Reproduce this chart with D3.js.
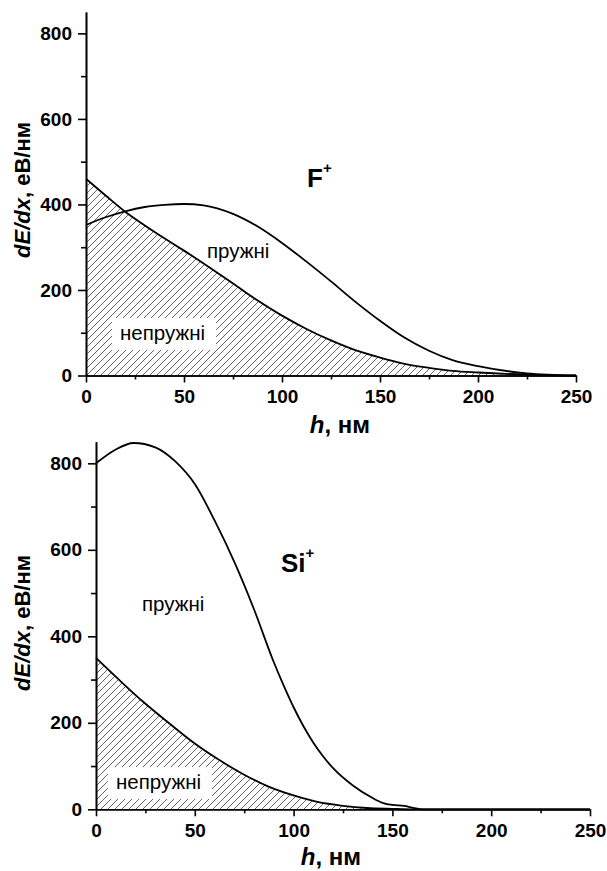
<!DOCTYPE html>
<html>
<head>
<meta charset="utf-8">
<script src="https://cdn.jsdelivr.net/npm/d3@7"></script>
<style>
	body { margin: 0; background: #fff; }
	svg { display: block; font-family: "Liberation Sans", Arial, sans-serif; }
	.axis path, .axis line { stroke: #000; stroke-width: 1.6; }
	.axis text { font-size: 19px; font-weight: bold; fill: #000; }
	.curve { fill: none; stroke: #000; stroke-width: 1.8; }
</style>
</head>
<body>
<svg id="fig" width="607" height="871"></svg>
<script>
// --- data ---
const xTicks = [0, 50, 100, 150, 200, 250];
const xMinor = [25, 75, 125, 175, 225];
const yTicks = [0, 200, 400, 600, 800];
const yMinor = [100, 300, 500, 700];

// F+ : inelastic (hatched) and elastic losses
const hF = [0, 10, 20, 30, 40, 50, 60, 75, 87, 100, 112, 125, 137, 150, 162, 175, 187, 200, 225, 250];
const inelasticF = [460, 421, 383, 351, 321, 292, 262, 215, 177, 140, 110, 82, 60, 42, 28, 18, 11, 7, 2, 0];
const elasticF = [352, 370, 384, 394, 399, 401, 398, 378, 350, 310, 268, 220, 174, 128, 90, 58, 36, 22, 5, 0];

// Si+
const hSiEl = [0, 10, 19, 30, 40, 50, 60, 70, 80, 90, 95, 100, 105, 110, 115, 120, 130, 140, 145, 150, 156, 160, 166, 250];
const elasticSi = [800, 832, 847, 837, 805, 752, 668, 572, 462, 340, 286, 236, 192, 154, 122, 95, 55, 26, 15, 10, 8, 4, 0, 0];
const hSiIn = [0, 12, 24, 37, 50, 62, 75, 87, 100, 112, 125, 137, 150, 160, 250];
const inelasticSi = [350, 298, 248, 199, 152, 115, 80, 53, 32, 17, 8, 3, 1, 0, 0];

const svg = d3.select('#fig');

// hatch pattern "/"
svg.append('defs').append('pattern')
	.attr('id', 'hatch')
	.attr('patternUnits', 'userSpaceOnUse')
	.attr('width', 7).attr('height', 7)
	.append('path')
	.attr('d', 'M-1,1 l2,-2 M0,7 l7,-7 M6,8 l2,-2')
	.attr('stroke', '#555')
	.attr('stroke-width', 0.9);

function drawPanel(p) {
	const x = d3.scaleLinear().domain([0, 250]).range([p.left, p.right]);
	const y = d3.scaleLinear().domain([0, 850]).range([p.bottom, p.top]);
	const g = svg.append('g');

	const inPts = p.hIn.map((h, i) => [h, p.inel[i]]);
	const elPts = p.hEl.map((h, i) => [h, p.el[i]]);

	// hatched area of inelastic losses
	g.append('path')
		.datum(inPts)
		.attr('fill', 'url(#hatch)')
		.attr('d', d3.area().curve(d3.curveMonotoneX)
			.x(d => x(d[0])).y0(y(0)).y1(d => y(d[1])));

	// white box behind the label
	g.append('rect')
		.attr('x', p.boxX).attr('y', p.boxY)
		.attr('width', 104).attr('height', 32)
		.attr('fill', '#fff');

	const line = d3.line().curve(d3.curveMonotoneX).x(d => x(d[0])).y(d => y(d[1]));
	g.append('path').datum(inPts).attr('class', 'curve').attr('d', line);
	g.append('path').datum(elPts).attr('class', 'curve').attr('d', line);

	// axes: minor ticks first, then major ticks with labels
	g.append('g').attr('class', 'axis')
		.attr('transform', `translate(0,${p.bottom})`)
		.call(d3.axisBottom(x).tickValues(xMinor).tickSize(4).tickSizeOuter(0).tickFormat(''));
	g.append('g').attr('class', 'axis')
		.attr('transform', `translate(0,${p.bottom})`)
		.call(d3.axisBottom(x).tickValues(xTicks).tickSize(7).tickSizeOuter(0).tickPadding(7));
	g.append('g').attr('class', 'axis')
		.attr('transform', `translate(${p.left},0)`)
		.call(d3.axisLeft(y).tickValues(yMinor).tickSize(5).tickSizeOuter(0).tickFormat(''));
	g.append('g').attr('class', 'axis')
		.attr('transform', `translate(${p.left},0)`)
		.call(d3.axisLeft(y).tickValues(yTicks).tickSize(8).tickSizeOuter(0).tickPadding(6));
	g.selectAll('.axis').attr('font-family', null).attr('font-size', null);

	// y label
	const yl = g.append('text')
		.attr('transform', `translate(30,${p.yLabelY}) rotate(-90)`)
		.attr('text-anchor', 'middle')
		.attr('font-size', 22).attr('font-weight', 'bold');
	yl.append('tspan').attr('font-style', 'italic').text('dE/dx');
	yl.append('tspan').text(', еВ/нм');

	// x label
	const xl = g.append('text')
		.attr('x', p.xLabelX).attr('y', p.xLabelY)
		.attr('text-anchor', 'middle')
		.attr('font-size', 24).attr('font-weight', 'bold');
	xl.append('tspan').attr('font-style', 'italic').text('h');
	xl.append('tspan').text(', нм');

	// ion label
	const ion = g.append('text')
		.attr('x', p.ionX).attr('y', p.ionY)
		.attr('font-size', 26).attr('font-weight', 'bold');
	ion.append('tspan').text(p.ion);
	ion.append('tspan').attr('font-size', 15).attr('dy', -14).text('+');

	g.append('text').attr('x', p.elX).attr('y', p.elY)
		.attr('font-size', 20.5).text('пружні');
	g.append('text').attr('x', p.boxX + 8).attr('y', p.boxY + 22)
		.attr('font-size', 20.5).text('непружні');
}

drawPanel({
	left: 86, right: 576, top: 12, bottom: 375.5,
	hIn: hF, inel: inelasticF, hEl: hF, el: elasticF,
	boxX: 112, boxY: 318,
	yLabelY: 190, xLabelX: 340, xLabelY: 433,
	ion: 'F', ionX: 307, ionY: 187,
	elX: 207, elY: 258
});

drawPanel({
	left: 96, right: 590, top: 441.7, bottom: 809.3,
	hIn: hSiIn, inel: inelasticSi, hEl: hSiEl, el: elasticSi,
	boxX: 108, boxY: 767,
	yLabelY: 623, xLabelX: 331, xLabelY: 865,
	ion: 'Si', ionX: 281, ionY: 572,
	elX: 142, elY: 611
});
</script>
</body>
</html>
